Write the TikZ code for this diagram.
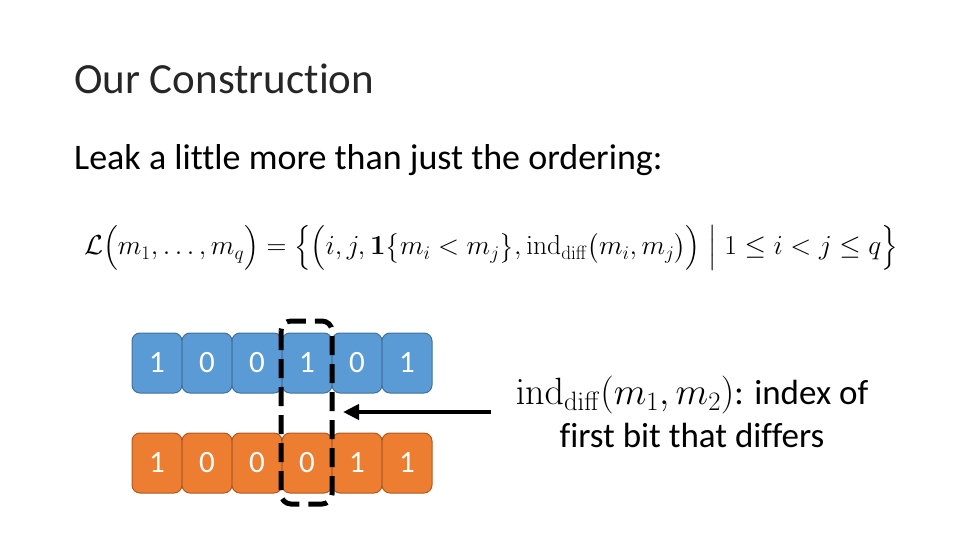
\RequirePackage{fix-cm}
\documentclass[tikz,border=0pt]{standalone}
\usepackage{amsmath}
\usepackage[no-math]{fontspec}
\setmainfont{Carlito}[Ligatures=NoCommon]
\usetikzlibrary{arrows.meta}
\definecolor{bitblue}{HTML}{5B9BD5}
\definecolor{bitblueline}{HTML}{41719C}
\definecolor{bitorange}{HTML}{ED7D31}
\definecolor{bitorangeline}{HTML}{AE5A21}
\tikzset{
  bit/.style={rounded corners=8pt,minimum width=50pt,minimum height=60pt,inner sep=0pt,
    line width=1pt,text=white,font=\fontsize{31}{34}\selectfont},
  topbit/.style={bit,draw=bitblueline,fill=bitblue},
  botbit/.style={bit,draw=bitorangeline,fill=bitorange}
}
\begin{document}
\begin{tikzpicture}[x=1pt,y=-1pt]
  \useasboundingbox (0,0) rectangle (960,540);
  \node[anchor=base west,inner sep=0pt,font=\fontsize{43}{48}\selectfont,text=black!85] (title) at (74,94) {Our Construction};
  \node[anchor=base west,inner sep=0pt,font=\fontsize{36}{40}\selectfont] (leak) at (74,170) {Leak a little more than just the ordering:};
  \node[font=\fontsize{27.5}{32}\selectfont] (leakage) at (491,248)
    {$\mathcal{L}\Big(m_1,\dots,m_q\Big)=\Big\{\Big(i,j,\mathbf{1}\big\{m_i<m_j\big\},\mathrm{ind}_{\mathrm{diff}}\big(m_i,m_j\big)\Big)\;\Big|\;1\le i<j\le q\Big\}$};
  % the two bit strings
  \foreach \i/\a/\b in {1/1/1,2/0/0,3/0/0,4/1/0,5/0/1,6/1/1}{
    \node[topbit] (top\i) at (107+50*\i,363) {\a};
    \node[botbit] (bot\i) at (107+50*\i,463) {\b};
  }
  % first differing column
  \draw[line width=5pt,dash pattern=on 19pt off 9pt,rounded corners=10pt] (281,321) rectangle (332,504);
  \coordinate (tail) at (491,412);
  \coordinate (head) at (343,412);
  \draw[line width=4.5pt,-{Stealth[length=16pt,width=15pt,inset=0pt]}] (tail) -- (head);
  \node[align=center,font=\fontsize{35}{43}\selectfont] (note) at (692,412)
    {{\fontsize{38}{43}\selectfont$\mathrm{ind}_{\mathrm{diff}}(m_1,m_2)$}: index of\\first bit that differs};
\end{tikzpicture}
\end{document}
